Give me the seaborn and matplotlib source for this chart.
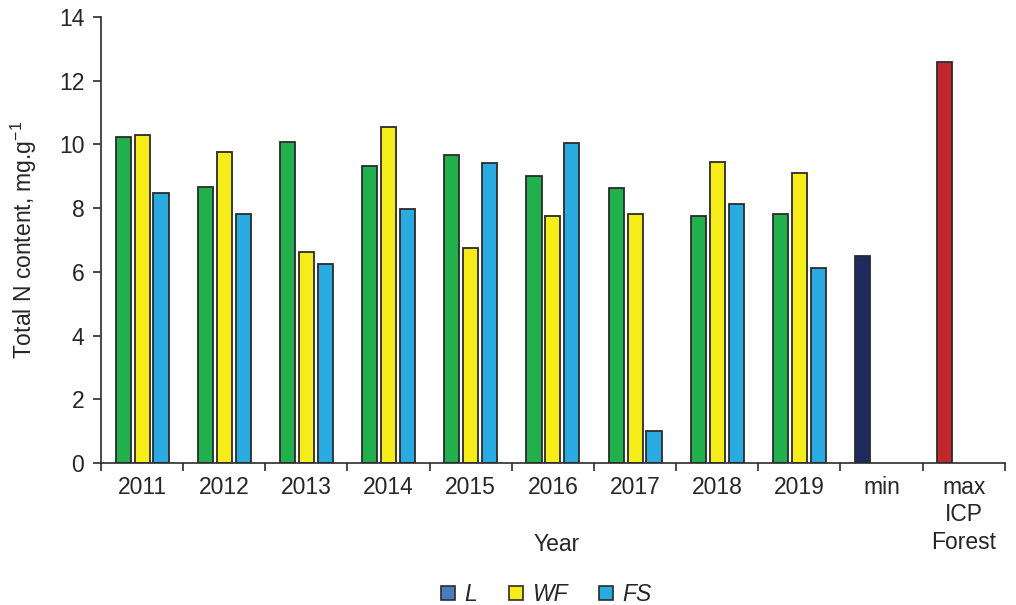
import matplotlib
matplotlib.use("Agg")
import matplotlib.pyplot as plt
from matplotlib.lines import Line2D
import numpy as np
import pandas as pd
import seaborn as sns

# categories and values
categories = ['2011', '2012', '2013', '2014', '2015', '2016', '2017', '2018', '2019',
              'min', 'max\nICP\nForest']
L_vals = [10.23, 8.65, 10.08, 9.32, 9.67, 9.0, 8.63, 7.75, 7.8, 6.5, 12.6]
WF_vals = [10.3, 9.76, 6.62, 10.55, 6.75, 7.75, 7.82, 9.45, 9.1, np.nan, np.nan]
FS_vals = [8.47, 7.82, 6.25, 7.97, 9.42, 10.05, 1.0, 8.12, 6.12, np.nan, np.nan]
series = ['L', 'WF', 'FS']

colors = {'L': '#21b04b', 'WF': '#f5ec1a', 'FS': '#29abe2'}
ref_colors = {'min': '#1f2a5e', 'max\nICP\nForest': '#c1272d'}
legend_colors = {'L': '#4a7cc0', 'WF': '#f5ec1a', 'FS': '#29abe2'}

df = pd.DataFrame({
    'Year': categories * 3,
    'Series': ['L'] * 11 + ['WF'] * 11 + ['FS'] * 11,
    'Value': L_vals + WF_vals + FS_vals,
})

sns.set_style('white')
plt.rcParams['font.family'] = ['Liberation Sans', 'DejaVu Sans']
fs = 16.5

fig = plt.figure(figsize=(10.16, 6.05), dpi=100)
ax = fig.add_axes([0.0994, 0.2347, 0.8896, 0.7373])

sns.barplot(data=df, x='Year', y='Value', hue='Series', order=categories,
            hue_order=series, palette=colors, saturation=1, width=0.69, gap=0.2,
            edgecolor='#2b2b2b', linewidth=1.3, legend=False, ax=ax)

# recolour the L bars that stand for the reference values
for bar in ax.containers[0]:
    idx = int(round(bar.get_x() + bar.get_width() / 2 + 0.23))
    if categories[idx] in ref_colors:
        bar.set_facecolor(ref_colors[categories[idx]])

ax.set_xlim(-0.5, len(categories) - 0.5)
ax.set_ylim(0, 14)
ax.set_yticks(np.arange(0, 15, 2))
ax.set_xticks(np.arange(-0.5, len(categories), 1), minor=True)
ax.tick_params(axis='x', which='major', length=0, pad=9, labelsize=fs)
ax.tick_params(axis='x', which='minor', length=6, width=1.2, color='#2b2b2b', direction='out',
               bottom=True)
ax.tick_params(axis='y', length=6, width=1.2, color='#2b2b2b', direction='out', left=True,
               labelsize=fs, pad=6)
for lab in ax.get_xticklabels():
    lab.set_linespacing(1.25)

for s in ['top', 'right']:
    ax.spines[s].set_visible(False)
for s in ['left', 'bottom']:
    ax.spines[s].set_color('#2b2b2b')
    ax.spines[s].set_linewidth(1.2)

ax.set_xlabel('Year', fontsize=fs)
ax.xaxis.set_label_coords(0.504, -0.158)
ax.set_ylabel('Total N content, mg.g$^{\\mathregular{-1}}$', fontsize=fs, labelpad=14)

handles = [Line2D([0], [0], marker='s', linestyle='none', markersize=9.5,
                  markerfacecolor=legend_colors[s], markeredgecolor='#2b2b2b',
                  markeredgewidth=1.2) for s in series]
leg = fig.legend(handles, series, loc='lower center', bbox_to_anchor=(0.537, -0.036),
                 ncol=3, frameon=False, fontsize=fs, handlelength=0.7, handletextpad=0.35,
                 columnspacing=1.35)
for t in leg.get_texts():
    t.set_style('italic')

fig.savefig('out.png', dpi=100)
